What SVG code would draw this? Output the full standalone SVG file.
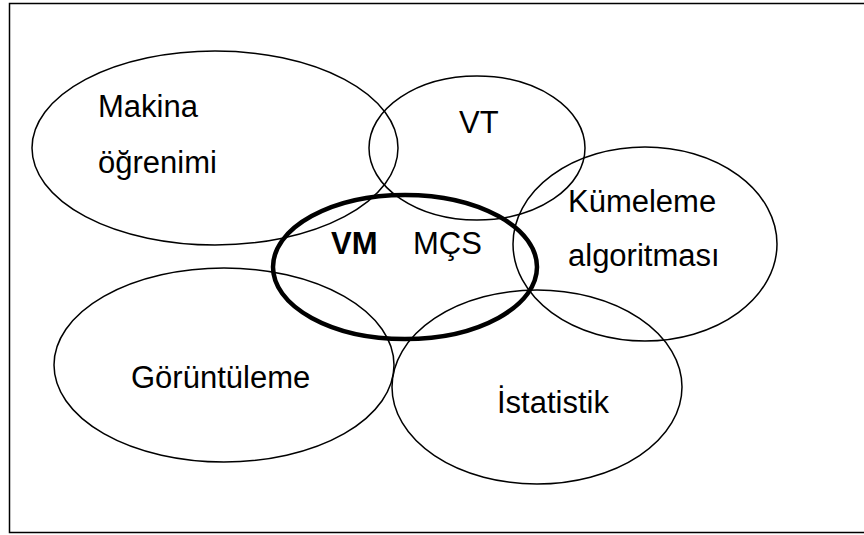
<svg xmlns="http://www.w3.org/2000/svg" width="864" height="535" viewBox="0 0 864 535">
  <style>
    .set { fill: none; stroke: #000; stroke-width: 1.5; }
    .core { fill: none; stroke: #000; stroke-width: 4.5; }
    .lbl { font-family: "Liberation Sans", Arial, sans-serif; font-size: 31px; fill: #000; }
    .bold { font-weight: bold; }
  </style>
  <rect width="864" height="535" fill="#fff"/>
  <!-- outer frame; its right side runs past the canvas edge -->
  <rect x="9.5" y="3.5" width="860" height="529" fill="none" stroke="#000" stroke-width="1.5"/>

  <g id="makina-ogrenimi">
    <ellipse class="set" cx="215" cy="148" rx="183" ry="97"/>
    <text class="lbl" x="98" y="117">Makina</text>
    <text class="lbl" x="98" y="173">öğrenimi</text>
  </g>

  <g id="vt">
    <ellipse class="set" cx="477" cy="148" rx="108" ry="72"/>
    <text class="lbl" x="459" y="133">VT</text>
  </g>

  <g id="kumeleme-algoritmasi">
    <ellipse class="set" cx="645" cy="244" rx="132" ry="97"/>
    <text class="lbl" x="568" y="212">Kümeleme</text>
    <text class="lbl" x="568" y="266">algoritması</text>
  </g>

  <g id="goruntuleme">
    <ellipse class="set" cx="224" cy="365" rx="170" ry="97"/>
    <text class="lbl" x="131" y="388">Görüntüleme</text>
  </g>

  <g id="istatistik">
    <ellipse class="set" cx="537" cy="387" rx="145" ry="97"/>
    <text class="lbl" x="497" y="413">İstatistik</text>
  </g>

  <g id="vm-mcs">
    <ellipse class="core" cx="405" cy="267" rx="132" ry="72"/>
    <text class="lbl bold" x="331" y="254">VM</text>
    <text class="lbl" x="413" y="254">MÇS</text>
  </g>
</svg>
